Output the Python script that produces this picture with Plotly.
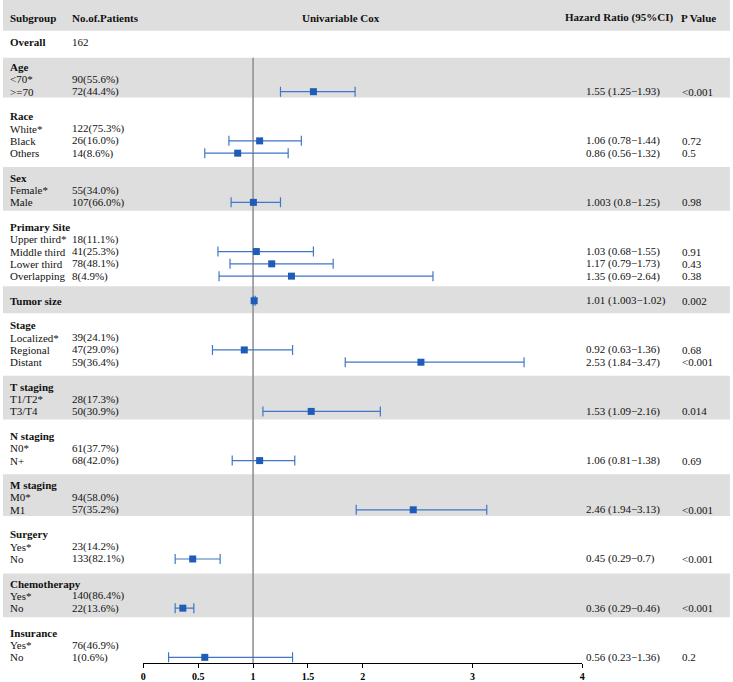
import plotly.graph_objects as go

# ---------------- data ----------------
labels = ["Overall",
          "Age", "<70*", ">=70",
          "Race", "White*", "Black", "Others",
          "Sex", "Female*", "Male",
          "Primary Site", "Upper third*", "Middle third", "Lower third", "Overlapping",
          "Tumor size",
          "Stage", "Localized*", "Regional", "Distant",
          "T staging", "T1/T2*", "T3/T4",
          "N staging", "N0*", "N+",
          "M staging", "M0*", "M1",
          "Surgery", "Yes*", "No",
          "Chemotherapy", "Yes*", "No",
          "Insurance", "Yes*", "No"]
is_group = [1,
            1, 0, 0,
            1, 0, 0, 0,
            1, 0, 0,
            1, 0, 0, 0, 0,
            1,
            1, 0, 0, 0,
            1, 0, 0,
            1, 0, 0,
            1, 0, 0,
            1, 0, 0,
            1, 0, 0,
            1, 0, 0]
patients = ["162",
            "", "90(55.6%)", "72(44.4%)",
            "", "122(75.3%)", "26(16.0%)", "14(8.6%)",
            "", "55(34.0%)", "107(66.0%)",
            "", "18(11.1%)", "41(25.3%)", "78(48.1%)", "8(4.9%)",
            "",
            "", "39(24.1%)", "47(29.0%)", "59(36.4%)",
            "", "28(17.3%)", "50(30.9%)",
            "", "61(37.7%)", "68(42.0%)",
            "", "94(58.0%)", "57(35.2%)",
            "", "23(14.2%)", "133(82.1%)",
            "", "140(86.4%)", "22(13.6%)",
            "", "76(46.9%)", "1(0.6%)"]
hr = [None,
      None, None, 1.55,
      None, None, 1.06, 0.86,
      None, None, 1.003,
      None, None, 1.03, 1.17, 1.35,
      1.01,
      None, None, 0.92, 2.53,
      None, None, 1.53,
      None, None, 1.06,
      None, None, 2.46,
      None, None, 0.45,
      None, None, 0.36,
      None, None, 0.56]
lo = [None,
      None, None, 1.25,
      None, None, 0.78, 0.56,
      None, None, 0.8,
      None, None, 0.68, 0.79, 0.69,
      1.003,
      None, None, 0.63, 1.84,
      None, None, 1.09,
      None, None, 0.81,
      None, None, 1.94,
      None, None, 0.29,
      None, None, 0.29,
      None, None, 0.23]
hi = [None,
      None, None, 1.93,
      None, None, 1.44, 1.32,
      None, None, 1.25,
      None, None, 1.55, 1.73, 2.64,
      1.02,
      None, None, 1.36, 3.47,
      None, None, 2.16,
      None, None, 1.38,
      None, None, 3.13,
      None, None, 0.7,
      None, None, 0.46,
      None, None, 1.36]
pvals = ["",
         "", "", "<0.001",
         "", "", "0.72", "0.5",
         "", "", "0.98",
         "", "", "0.91", "0.43", "0.38",
         "0.002",
         "", "", "0.68", "<0.001",
         "", "", "0.014",
         "", "", "0.69",
         "", "", "<0.001",
         "", "", "<0.001",
         "", "", "<0.001",
         "", "", "0.2"]
headers = ["Subgroup", "No.of.Patients", "Univariable Cox", "Hazard Ratio (95%CI)", "P Value"]
tick_vals = [0, 0.5, 1, 1.5, 2, 3, 4]
tick_text = ["0", "0.5", "1", "1.5", "2", "3", "4"]

# ---------------- layout helpers ----------------
W, H = 733, 682
ROW0_PX, ROW_PX = 18.0, 12.37
AXIS_PX = 667.0


def px_to_row(px):
    return (px - ROW0_PX) / ROW_PX


# row positions: header at 0, blank, then groups separated by blank rows
rows = []
r = 0
for i, g in enumerate(is_group):
    r += 2 if g else 1
    rows.append(r)

FONT = "Liberation Serif, Times New Roman, serif"
TXT = "#111111"
BAND = "#dedede"

fig = go.Figure()

# forest marks
xs = [h for h in hr if h is not None]
ys = [rows[i] for i, h in enumerate(hr) if h is not None]
em = [hr[i] - lo[i] for i, h in enumerate(hr) if h is not None]
ep = [hi[i] - hr[i] for i, h in enumerate(hr) if h is not None]
fig.add_trace(go.Scatter(
    x=xs, y=ys, mode="markers",
    marker=dict(symbol="square", size=7, color="#1f5cb8"),
    error_x=dict(type="data", symmetric=False, array=ep, arrayminus=em,
                 color="#3f77c8", thickness=1.2, width=5),
    hoverinfo="skip", showlegend=False, cliponaxis=False,
))

shapes = []
# grey bands
band_px = [(0, 31), (58, 98), (168, 212), (288, 315), (378, 422), (477, 519), (577, 621)]
for a, b in band_px:
    shapes.append(dict(type="rect", xref="paper", yref="y", x0=0, x1=1,
                       y0=px_to_row(a), y1=px_to_row(b), fillcolor=BAND,
                       line=dict(width=0), layer="below"))
# reference line at HR = 1
shapes.append(dict(type="line", xref="x", yref="y", x0=1, x1=1,
                   y0=px_to_row(58), y1=px_to_row(AXIS_PX),
                   line=dict(color="#8c8c8c", width=1.5), layer="below"))

ann = []


def add_text(xpx, y, text, bold=False, anchor="left", size=11):
    ann.append(dict(xref="paper", yref="y", x=xpx / W, y=y,
                    text=("<b>%s</b>" % text) if bold else text,
                    showarrow=False, xanchor=anchor, yanchor="middle",
                    font=dict(family=FONT, size=size, color=TXT)))


# header
add_text(5, 0, headers[0], bold=True)
add_text(68, 0, headers[1], bold=True)
add_text(341, 0, headers[2], bold=True, anchor="center")
add_text(565, 0, headers[3], bold=True)
add_text(682, 0, headers[4], bold=True)

for i, lab in enumerate(labels):
    y = rows[i]
    add_text(5, y, lab, bold=bool(is_group[i]))
    if patients[i]:
        add_text(68, y, patients[i])
    if hr[i] is not None:
        add_text(586, y, "%s (%s\u2212%s)" % (hr[i], lo[i], hi[i]))
    if pvals[i]:
        add_text(683, y, pvals[i])

x0_px, x1_px = 141.5, 584.0
bottom_dom = (H - AXIS_PX) / H

fig.update_layout(
    width=W, height=H, margin=dict(l=0, r=0, t=0, b=0),
    paper_bgcolor="white", plot_bgcolor="rgba(0,0,0,0)",
    shapes=shapes, annotations=ann, showlegend=False,
    xaxis=dict(domain=[x0_px / W, x1_px / W], range=[0, 4], showgrid=False,
               zeroline=False, showline=True, linecolor="black", linewidth=1.2,
               ticks="outside", ticklen=4, tickwidth=1.2, tickcolor="black",
               tickvals=tick_vals, ticktext=["<b>%s</b>" % t for t in tick_text],
               tickfont=dict(family=FONT, size=10, color="black"), fixedrange=True),
    yaxis=dict(domain=[bottom_dom, 1], range=[px_to_row(AXIS_PX), px_to_row(0)],
               showgrid=False, zeroline=False, showline=False, showticklabels=False,
               ticks="", fixedrange=True),
)

fig.write_html("out.html", config={"displayModeBar": False},
               post_script="document.body.style.margin='0';document.body.style.overflow='hidden';")
